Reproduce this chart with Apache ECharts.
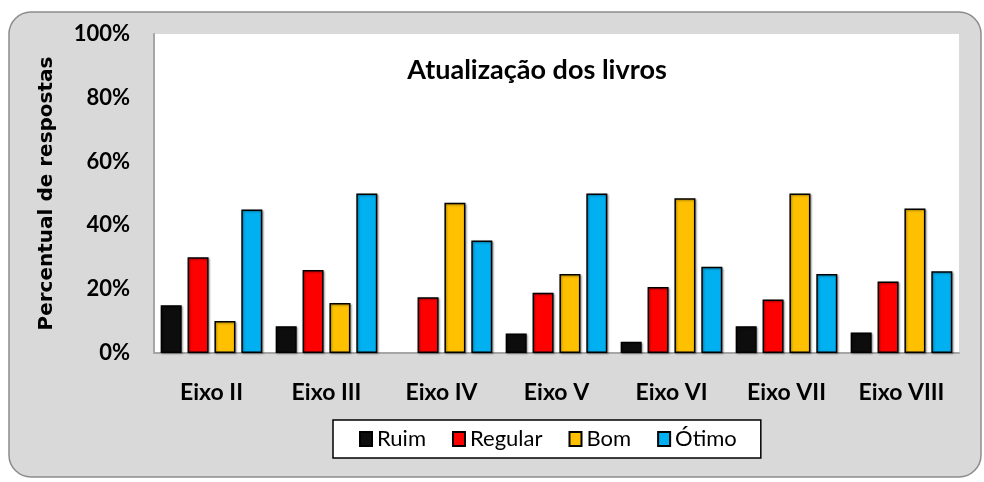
<!DOCTYPE html>
<html>
<head>
<meta charset="utf-8">
<script src="https://cdn.jsdelivr.net/npm/echarts@6/dist/echarts.min.js"></script>
<style>
  html, body { margin: 0; padding: 0; background: #fff; }
  #chart { width: 984px; height: 482px; }
</style>
</head>
<body>
<div id="chart"></div>
<script>
const categories = ['Eixo II', 'Eixo III', 'Eixo IV', 'Eixo V', 'Eixo VI', 'Eixo VII', 'Eixo VIII'];
const ruim    = [15.0, 8.4, 0, 6.1, 3.5, 8.4, 6.4];
const regular = [30.0, 26.0, 17.5, 18.9, 20.7, 16.8, 22.4];
const bom     = [10.0, 15.7, 47.1, 24.8, 48.5, 50.0, 45.3];
const otimo   = [45.0, 50.0, 35.3, 50.0, 27.0, 24.8, 25.6];

const font = 'Lato, "Liberation Sans", sans-serif';
const chart = echarts.init(document.getElementById('chart'));

function bar(name, data, color) {
  return {
    name: name,
    type: 'bar',
    // a zero value draws nothing in the original, not even the outline
    data: data.map(v => v === 0 ? { value: 0, itemStyle: { borderWidth: 0, shadowBlur: 0, shadowOffsetX: 0, shadowOffsetY: 0 } } : v),
    barWidth: 21,
    barGap: '28%',
    itemStyle: {
      color: color,
      borderColor: '#000',
      borderWidth: 1.5,
      shadowColor: 'rgba(0,0,0,0.35)',
      shadowBlur: 2,
      shadowOffsetX: 1,
      shadowOffsetY: 1
    }
  };
}

chart.setOption({
  animation: false,
  graphic: [
    {
      type: 'rect',
      z: -10,
      shape: { x: 9, y: 12, width: 972, height: 465, r: 22 },
      style: { fill: '#d9d9d9', stroke: '#8c8c8c', lineWidth: 1.5 }
    },
    {
      type: 'text',
      z: 10,
      x: 537, y: 70,
      style: {
        text: 'Atualização dos livros',
        font: 'bold 27px ' + font,
        fill: '#000',
        align: 'center',
        verticalAlign: 'middle'
      }
    }
  ],
  grid: {
    left: 154, right: 25, top: 34, bottom: 129,
    show: true, backgroundColor: '#fff', borderWidth: 0
  },
  legend: {
    left: 333, top: 420,
    padding: [8, 24, 8, 26],
    backgroundColor: '#fff',
    borderColor: '#000',
    borderWidth: 1.5,
    itemWidth: 12, itemHeight: 14,
    itemGap: 26,
    icon: 'rect',
    textStyle: { fontFamily: font, fontSize: 22, color: '#000' },
    data: ['Ruim', 'Regular', 'Bom', 'Ótimo']
  },
  xAxis: {
    type: 'category',
    data: categories,
    axisLine: { lineStyle: { color: '#a6a6a6', width: 2 } },
    axisTick: { show: false },
    axisLabel: { fontFamily: font, fontWeight: 'bold', fontSize: 23, color: '#000', margin: 28 }
  },
  yAxis: {
    type: 'value',
    min: 0, max: 100, interval: 20,
    name: 'Percentual de respostas',
    nameLocation: 'middle',
    nameGap: 97,
    nameTextStyle: { fontFamily: '"DejaVu Sans", sans-serif', fontWeight: 'bold', fontSize: 20, color: '#000' },
    axisLine: { show: true, lineStyle: { color: '#a6a6a6', width: 2 } },
    axisTick: { show: false },
    splitLine: { show: false },
    axisLabel: {
      fontFamily: font, fontWeight: 'bold', fontSize: 22, color: '#000', margin: 24,
      formatter: '{value}%'
    }
  },
  series: [
    bar('Ruim', ruim, '#0d0d0d'),
    bar('Regular', regular, '#ff0000'),
    bar('Bom', bom, '#ffc000'),
    bar('Ótimo', otimo, '#00b0f0')
  ]
});
</script>
</body>
</html>
